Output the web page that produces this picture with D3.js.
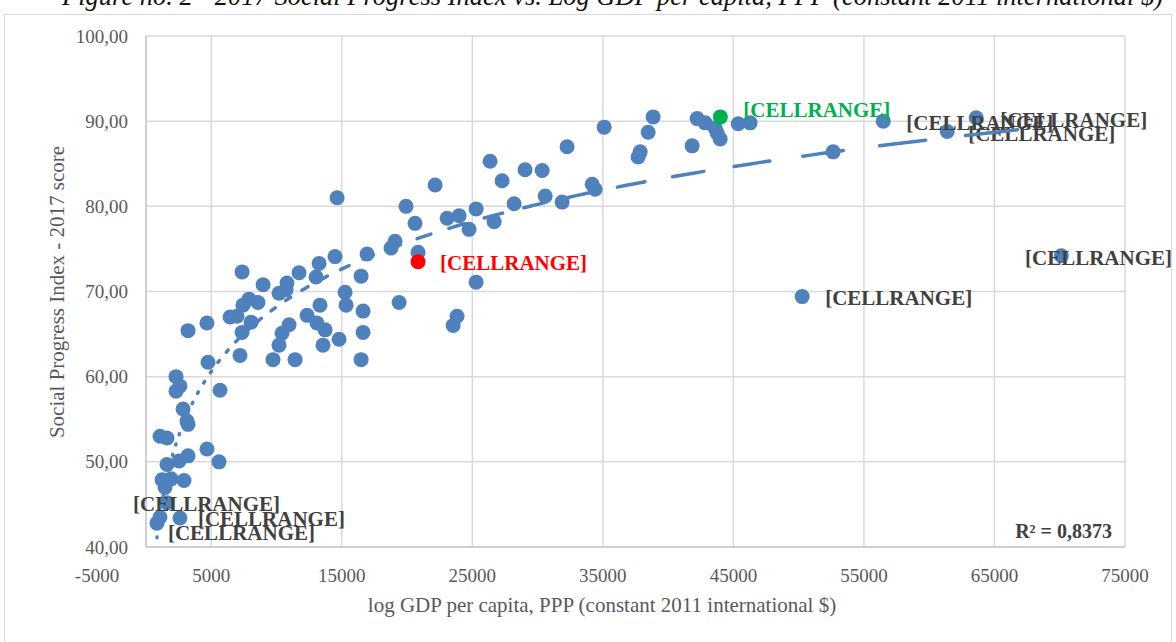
<!DOCTYPE html>
<html>
<head>
<meta charset="utf-8">
<script src="https://cdn.jsdelivr.net/npm/d3@7"></script>
<style>
  body { margin: 0; background: #fff; }
  text { font-family: "Liberation Serif", "Times New Roman", serif; }
</style>
</head>
<body>
<svg id="chart"></svg>
<script>
// values
// first 10 entries are the labelled points (red, green, then grey labels)
const gdp = [
  20840, 44000, 50270, 70120, 56480, 63600, 61380, 1610, 2600, 840,
  2300, 2600, 2300, 5670, 2840, 3140, 3220, 1070, 1610, 4670,
  5590, 3220, 2530, 1610, 1230, 1920, 2910, 1460, 1070,
  7360, 3220, 4670, 4750, 7200, 7360, 8050, 6440, 6970, 7430,
  7890, 8580, 8970, 10190, 10800, 10730, 11720, 13030, 13260, 14480,
  13330, 12340, 13100, 13720, 13560, 10960, 10420, 10190, 9730, 11420,
  14790, 15250, 15330, 16630, 16630, 16480, 16480, 16940, 14640, 19920,
  20610, 20840, 19080, 18770, 19390, 22150, 23070, 23990, 25290, 24750,
  25290, 23830, 23530, 26670, 26360, 27280, 28200, 29040, 30350, 30580,
  31880, 32260, 34180, 34410, 35100, 38850, 38470, 37860, 37700, 41840,
  42220, 42840, 43600, 43760, 43990, 45370, 46280, 52640
];
const spi = [
  73.5, 90.5, 69.4, 74.2, 90.0, 90.4, 88.8, 45.2, 43.4, 42.8,
  60.0, 58.9, 58.3, 58.4, 56.2, 54.8, 54.4, 53.0, 52.8, 51.5,
  50.0, 50.7, 50.1, 49.7, 47.9, 48.0, 47.8, 47.0, 43.5,
  72.3, 65.4, 66.3, 61.7, 62.5, 65.2, 66.4, 67.0, 67.1, 68.4,
  69.1, 68.7, 70.8, 69.8, 71.0, 70.2, 72.2, 71.7, 73.3, 74.1,
  68.4, 67.2, 66.3, 65.5, 63.7, 66.1, 65.1, 63.7, 62.0, 62.0,
  64.4, 69.9, 68.4, 67.7, 65.2, 62.0, 71.8, 74.4, 81.0, 80.0,
  78.0, 74.6, 75.9, 75.1, 68.7, 82.5, 78.6, 78.9, 79.7, 77.3,
  71.1, 67.1, 66.0, 78.2, 85.3, 83.0, 80.3, 84.3, 84.2, 81.2,
  80.5, 87.0, 82.6, 82.0, 89.3, 90.5, 88.7, 86.4, 85.8, 87.1,
  90.3, 89.8, 89.2, 88.6, 87.9, 89.7, 89.8, 86.4
];
const highlight = { 0: "#ff0000", 1: "#00b050" };
const labelText = "[CELLRANGE]";
const xTicks = [-5000, 5000, 15000, 25000, 35000, 45000, 55000, 65000, 75000];
const yTicks = [40, 50, 60, 70, 80, 90, 100];
const title = "Figure no. 2 - 2017 Social Progress Index vs. Log GDP per capita, PPP (constant 2011 international $)";
const xTitle = "log GDP per capita, PPP (constant 2011 international $)";
const yTitle = "Social Progress Index - 2017 score";
const r2Text = "R² = 0,8373";

// label placement (offset from its point, like Excel's manual label moves)
const labels = [
  { i: 0, dx: 22, dy: 1, color: "#ff0000" },
  { i: 1, dx: 23, dy: -7, color: "#00b050" },
  { i: 2, dx: 23, dy: 1 },
  { i: 3, dx: 23, dy: 2 },
  { i: 4, dx: 23, dy: 1 },
  { i: 5, dx: 24, dy: 2 },
  { i: 6, dx: 21, dy: 2 },
  { i: 7, dx: -34, dy: 1 },
  { i: 8, dx: 18, dy: 1 },
  { i: 9, dx: 11, dy: 9 }
];

const width = 1176, height = 642;
const blue = "#4f81bd";

const svg = d3.select("#chart")
  .attr("width", width)
  .attr("height", height);

const x = d3.scaleLinear().domain([0, 75000]).range([146, 1125]);
const y = d3.scaleLinear().domain([40, 100]).range([547, 36]);

// chart frame
svg.append("rect")
  .attr("x", 4.5).attr("y", 14.5)
  .attr("width", 1167).attr("height", 660)
  .attr("fill", "none")
  .attr("stroke", "#d9d9d9");

// caption above the chart, cut by the page top
svg.append("text")
  .attr("x", 62).attr("y", 5)
  .attr("font-size", 26.5)
  .attr("font-style", "italic")
  .attr("fill", "#111")
  .text(title);

// gridlines
const grid = svg.append("g");
grid.selectAll("line.gx")
  .data(xTicks.filter(d => d > 0))
  .enter().append("line")
  .attr("class", "gx")
  .attr("x1", d => x(d)).attr("x2", d => x(d))
  .attr("y1", y(100)).attr("y2", y(40))
  .attr("stroke", "#d9d9d9").attr("stroke-width", 1.5);
grid.selectAll("line.gy")
  .data(yTicks.filter(d => d > 40))
  .enter().append("line")
  .attr("class", "gy")
  .attr("x1", x(0)).attr("x2", x(75000))
  .attr("y1", d => y(d)).attr("y2", d => y(d))
  .attr("stroke", "#d9d9d9").attr("stroke-width", 1.5);

// axis lines
svg.append("line")
  .attr("x1", x(0)).attr("x2", x(0))
  .attr("y1", y(100)).attr("y2", y(40))
  .attr("stroke", "#bfbfbf").attr("stroke-width", 1.5);
svg.append("line")
  .attr("x1", x(0)).attr("x2", x(75000))
  .attr("y1", y(40)).attr("y2", y(40))
  .attr("stroke", "#bfbfbf").attr("stroke-width", 1.5);

// tick labels
const fmtY = v => d3.format(".2f")(v).replace(".", ",");
svg.append("g").selectAll("text")
  .data(yTicks)
  .enter().append("text")
  .attr("x", 128)
  .attr("y", d => y(d))
  .attr("dy", "0.35em")
  .attr("text-anchor", "end")
  .attr("font-size", 19)
  .attr("fill", "#595959")
  .text(fmtY);

svg.append("g").selectAll("text")
  .data(xTicks)
  .enter().append("text")
  // Excel pushes the first label in from the chart edge
  .attr("x", d => Math.max(x(d), x(0) - 49))
  .attr("y", 582)
  .attr("text-anchor", "middle")
  .attr("font-size", 19)
  .attr("fill", "#595959")
  .text(d => d);

// axis titles
svg.append("text")
  .attr("x", 602).attr("y", 612)
  .attr("text-anchor", "middle")
  .attr("font-size", 21)
  .attr("fill", "#595959")
  .text(xTitle);
svg.append("text")
  .attr("transform", "translate(64,292) rotate(-90)")
  .attr("text-anchor", "middle")
  .attr("font-size", 21)
  .attr("fill", "#595959")
  .text(yTitle);

// points
const idx = d3.range(gdp.length);
const order = idx.filter(i => !highlight[i]).concat(idx.filter(i => highlight[i]));
svg.append("g").selectAll("circle")
  .data(order)
  .enter().append("circle")
  .attr("cx", i => x(gdp[i]))
  .attr("cy", i => y(spi[i]))
  .attr("r", 7.5)
  .attr("fill", i => highlight[i] || blue);

// data labels
svg.append("g").selectAll("text")
  .data(labels)
  .enter().append("text")
  .attr("x", d => x(gdp[d.i]) + d.dx)
  .attr("y", d => y(spi[d.i]) + d.dy)
  .attr("dy", "0.35em")
  .attr("font-size", 21)
  .attr("font-weight", "bold")
  .attr("fill", d => d.color || "#404040")
  .text(labelText)
  .each(function () {
    // keep label inside the chart frame
    const w = this.getComputedTextLength();
    const lx = +this.getAttribute("x");
    if (lx + w > 1172) this.setAttribute("x", 1172 - w);
  });

// logarithmic trendline fitted to the points
const lnx = gdp.map(Math.log);
const mx = d3.mean(lnx), my = d3.mean(spi);
const slope = d3.sum(lnx, (v, i) => (v - mx) * (spi[i] - my)) / d3.sum(lnx, v => (v - mx) * (v - mx));
const icpt = my - slope * mx;
const trend = v => slope * Math.log(v) + icpt;

const lo = Math.log(d3.min(gdp)), hi = Math.log(d3.max(gdp));
const nSeg = 40;
const line = d3.line().x(d => x(d)).y(d => y(trend(d)));
const tg = svg.append("g");
for (let k = 0; k < nSeg; k++) {
  const a = lo + (hi - lo) * k / nSeg, b = lo + (hi - lo) * (k + 1) / nSeg;
  const pts = d3.range(9).map(j => Math.exp(a + (b - a) * j / 8));
  const p = tg.append("path")
    .attr("d", line(pts))
    .attr("fill", "none")
    .attr("stroke", blue)
    .attr("stroke-width", 3.5)
    .attr("stroke-linecap", "round");
  // each piece restarts the dash, so steep parts become dots
  const len = p.node().getTotalLength();
  const dash = Math.max(0.1, 0.6 * len - 5.5);
  p.attr("stroke-dasharray", `${dash} ${len}`);
}

// R squared
svg.append("text")
  .attr("x", 1112).attr("y", 538)
  .attr("text-anchor", "end")
  .attr("font-size", 20)
  .attr("font-weight", "bold")
  .attr("fill", "#404040")
  .text(r2Text);
</script>
</body>
</html>
